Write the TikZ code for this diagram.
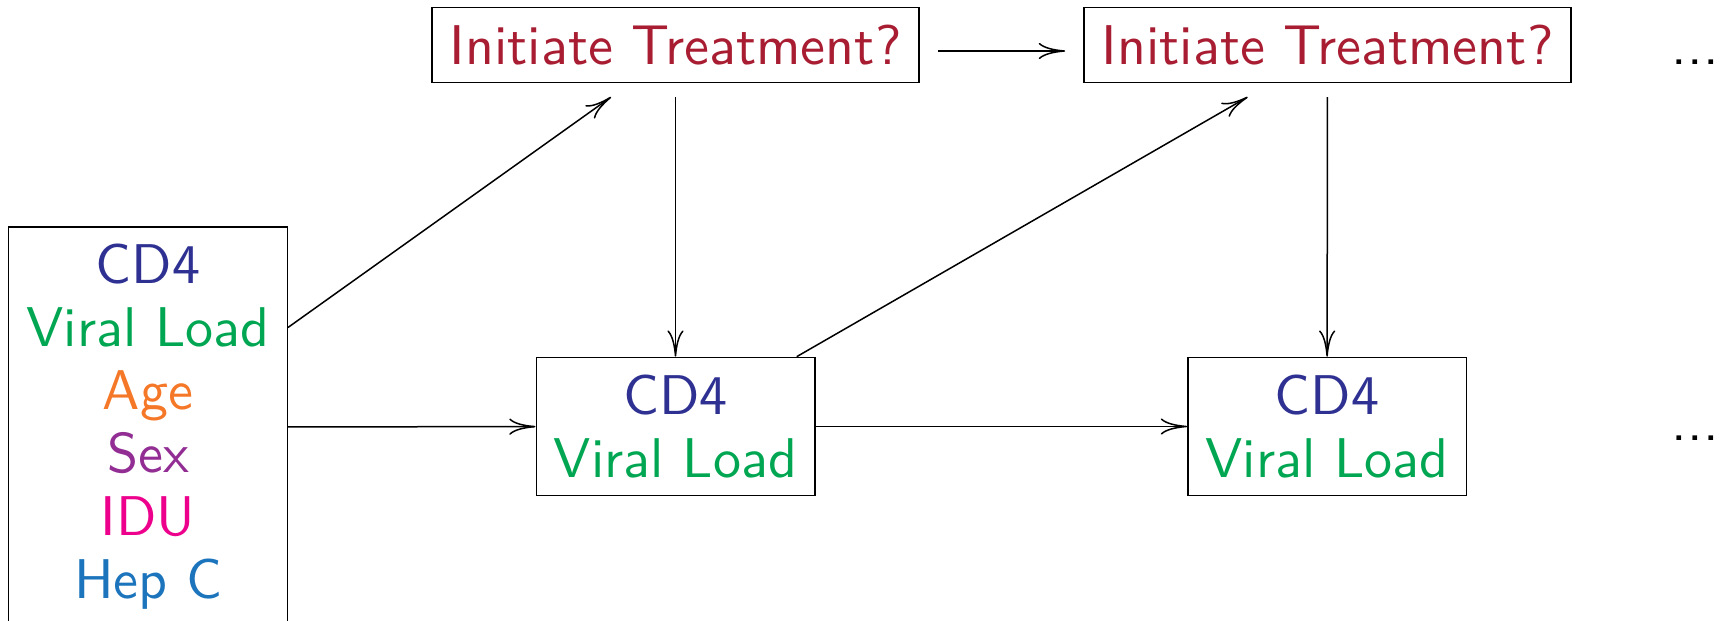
\documentclass[tikz,border=0pt]{standalone}
\usepackage{fontspec}
\newfontfamily\lmsten[Extension=.otf]{lmsans10-regular}
\usetikzlibrary{arrows.meta}
\definecolor{cdblue}{RGB}{46,49,146}
\definecolor{vlgreen}{RGB}{0,166,81}
\definecolor{ageorange}{RGB}{245,120,40}
\definecolor{sexpurple}{RGB}{146,45,148}
\definecolor{idumagenta}{RGB}{236,0,140}
\definecolor{hepblue}{RGB}{28,117,188}
\definecolor{trred}{RGB}{168,29,50}
\tikzset{
  varbox/.style={draw, line width=0.6pt, inner sep=7pt, align=center,
    minimum width=111.4pt,
    font=\lmsten\fontsize{22.4}{25.2}\selectfont},
  trbox/.style={draw, line width=0.6pt, inner sep=7pt, text=trred,
    font=\lmsten\fontsize{22.4}{25.2}\selectfont},
  zone/.style={inner sep=0pt, outer sep=0pt, minimum width=210pt, minimum height=36.8pt},
  conn/.style={-{To[length=10.5pt,width=6.5pt]}, line width=0.6pt},
  dotsty/.style={inner sep=0pt, font=\lmsten\fontsize{22.4}{25.2}\selectfont}
}
\begin{document}
\begin{tikzpicture}[x=0.4pt,y=-0.4pt]
\useasboundingbox (0,0) rectangle (1725,620);
\node[varbox] (base) at (148,427) {\textcolor{cdblue}{CD4}\\\textcolor{vlgreen}{Viral Load}\\\textcolor{ageorange}{Age}\\\textcolor{sexpurple}{Sex}\\\textcolor{idumagenta}{IDU}\\\textcolor{hepblue}{Hep C}};
\node[varbox] (m1) at (675.5,426.5) {\textcolor{cdblue}{CD4}\\\textcolor{vlgreen}{Viral Load}};
\node[varbox] (m2) at (1327,426.5) {\textcolor{cdblue}{CD4}\\\textcolor{vlgreen}{Viral Load}};
\node[trbox] (t1) at (675.5,45) {Initiate Treatment?};
\node[trbox] (t2) at (1327.5,45) {Initiate Treatment?};
\node[zone] (t1z) at (675.5,51) {};
\node[zone] (t2z) at (1327.5,51) {};
\node[dotsty, anchor=base] (d1) at (1695,64.5) {.\kern0.2pt.\kern0.2pt.};
\node[dotsty, anchor=base] (d2) at (1695,440) {.\kern0.2pt.\kern0.2pt.};
\draw[conn] (base) -- (t1z);
\draw[conn] (base) -- (m1);
\draw[conn] (t1z) -- (m1);
\draw[conn] (t1z) -- (t2z);
\draw[conn] (m1) -- (t2z);
\draw[conn] (m1) -- (m2);
\draw[conn] (t2z) -- (m2);
\end{tikzpicture}
\end{document}
